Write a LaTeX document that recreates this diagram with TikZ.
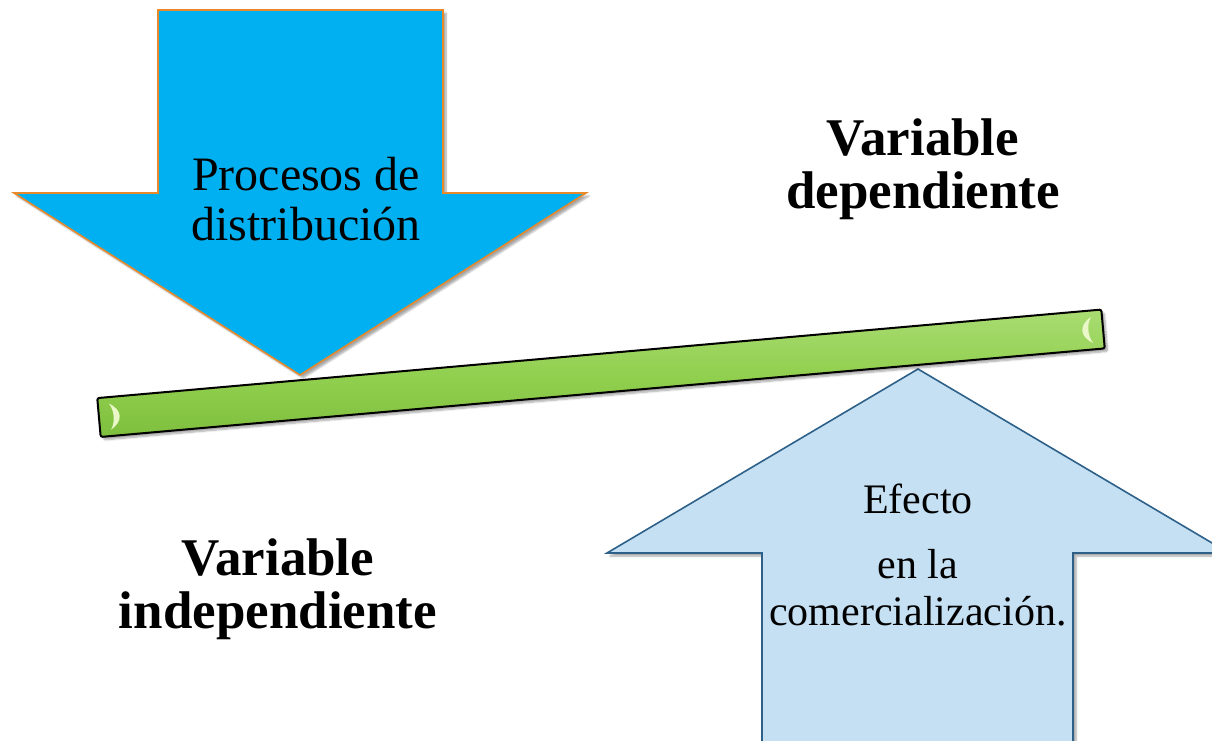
\documentclass[tikz,border=0pt]{standalone}
\usepackage{fontspec}
\setmainfont{Liberation Serif}
\usetikzlibrary{shadows.blur}
\definecolor{cyanfill}{HTML}{00B0F0}
\definecolor{orangeedge}{HTML}{E8892B}
\definecolor{barfill}{HTML}{92D050}
\definecolor{bartop}{HTML}{A9DC72}
\definecolor{barbot}{HTML}{7FBF3E}
\definecolor{barhl}{HTML}{EAF7C8}
\definecolor{paleblue}{HTML}{C5E0F2}
\definecolor{navyedge}{HTML}{2E6189}
\begin{document}
\begin{tikzpicture}[x=1pt,y=-1pt,
  softshadow/.style={blur shadow={shadow xshift=3pt, shadow yshift=-3pt, shadow blur steps=6, shadow opacity=35}},
  downarrow/.style={fill=cyanfill, draw=orangeedge, line width=1.6pt, line join=miter, softshadow},
  uparrow/.style={fill=paleblue, draw=navyedge, line width=1.6pt, line join=miter, softshadow},
  beamstyle/.style={draw=black, line width=2pt, rounded corners=2pt, top color=bartop, bottom color=barbot, middle color=barfill, inner sep=0pt, softshadow},
  highlight/.style={fill=barhl},
  normtxt/.style={font=\fontsize{48}{50}\selectfont, inner sep=0pt},
  smalltxt/.style={font=\fontsize{42}{47}\selectfont, inner sep=0pt},
  boldtxt/.style={font=\fontsize{53}{55}\selectfont\bfseries, inner sep=0pt}]
\useasboundingbox (0,0) rectangle (1212,740);
% down arrow
\draw[downarrow] (158,10) -- (443,10) -- (443,193) -- (586,193) -- (300,375) -- (14,193) -- (158,193) -- cycle;
% up arrow
\draw[uparrow] (762,760) -- (762,553) -- (607,553) -- (918,369) -- (1229,553) -- (1073,553) -- (1073,760) -- cycle;
% beam
\node[beamstyle, rotate=5.04, minimum width=1008pt, minimum height=39pt] (beam) at (601,373.25) {};
\begin{scope}[shift={(601,373.25)}, rotate=5.04]
  \fill[highlight] (-493,-13) .. controls (-480,-6) and (-480,6) .. (-493,13) .. controls (-488,6) and (-488,-6) .. cycle;
  \fill[highlight] (493,-13) .. controls (480,-6) and (480,6) .. (493,13) .. controls (488,6) and (488,-6) .. cycle;
\end{scope}
% texts
\node[normtxt, anchor=base] (p1) at (306,190) {Procesos de};
\node[normtxt, anchor=base] (p2) at (306,240) {distribución};
\node[boldtxt, anchor=base] (d1) at (923,155) {Variable};
\node[boldtxt, anchor=base] (d2) at (923,208) {dependiente};
\node[boldtxt, anchor=base] (i1) at (278,575) {Variable};
\node[boldtxt, anchor=base] (i2) at (278,628) {independiente};
\node[smalltxt, anchor=base] (e1) at (918,513) {Efecto};
\node[smalltxt, anchor=base] (e2) at (918,578) {en la};
\node[smalltxt, anchor=base] (e3) at (918,625) {comercialización.};
\end{tikzpicture}
\end{document}
